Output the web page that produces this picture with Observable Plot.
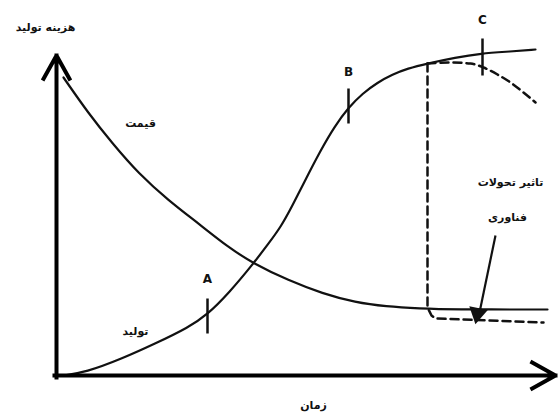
<!DOCTYPE html>
<html>
<head>
<meta charset="utf-8">
<script src="https://cdn.jsdelivr.net/npm/d3@7"></script>
<script src="https://cdn.jsdelivr.net/npm/@observablehq/plot@0.6"></script>
<style>
  html, body { margin: 0; padding: 0; background: #fff; }
  #chart svg { display: block; }
</style>
</head>
<body>
<div id="chart"></div>
<script>
// Price curve (قیمت): time vs value
const price = [[5,298],[30,262],[54,232],[80,202],[110,175],[140,152],[170,128],[195,112],[230,95],[264,82],[297,73],[327,69],[362,67],[392,66],[489,66]];
// Production S-curve (تولید)
const production = [[4,0],[27,3],[64,17],[97,32],[130,48],[149,61],[170,82],[195,112],[210,132],[222,148],[234,170],[245,192],[262,225],[276,249],[290,268],[304,282],[319,293],[334,301],[349,307],[369,312],[397,318],[422,322],[452,324],[477,326]];
// Dashed: production decline after technology change
const productionDecline = [[369,312],[392,313],[412,312],[425,308],[439,301],[452,293],[465,283],[477,273]];
// Dashed: technology effect drop and new lower price
const techDrop = [[369,312],[369,68],[373,60],[377,57],[485,53]];
// Stage markers A, B, C
const stageNames = ["A","B","C"];
const stageX = [149,290,424];
const stageLow = [42,252,300];
const stageHigh = [77,287,337];
const stageLabelY = [96,303,355];
// Arrow pointing to new price level
const effectArrow = [{x1:437,y1:140,x2:421,y2:63}];
const effectHead = [{x:419,y:62}];
// Text labels
const labels = [
  {x:-13, y:348, t:"هزینه تولید"},
  {x:82, y:252, t:"قیمت"},
  {x:77, y:44, t:"تولید"},
  {x:255, y:-30, t:"زمان"},
  {x:452, y:193, t:"تاثیر تحولات"},
  {x:449, y:158, t:"فناوری"}
];
// Axes
const axes = [
  {x1:-2, y1:-2, x2:-2, y2:320},
  {x1:-4, y1:0, x2:497, y2:0}
];

const stages = stageNames.map((n,i)=>({n, x:stageX[i], lo:stageLow[i], hi:stageHigh[i], ly:stageLabelY[i]}));
const font = "DejaVu Sans, Liberation Sans, sans-serif";

const chart = Plot.plot({
  width: 558,
  height: 414,
  marginLeft: 58,
  marginRight: 0,
  marginTop: 55,
  marginBottom: 39,
  x: {domain: [0, 500], axis: null},
  y: {domain: [0, 320], axis: null},
  style: {background: "#fff", fontFamily: font, overflow: "visible"},
  marks: [
    Plot.line(productionDecline, {x: d=>d[0], y: d=>d[1], stroke: "#111", strokeWidth: 2.5, strokeDasharray: "8,5", curve: "monotone-x"}),
    Plot.line(techDrop, {x: d=>d[0], y: d=>d[1], stroke: "#111", strokeWidth: 2.5, strokeDasharray: "8,5", curve: "linear"}),
    Plot.line(price, {x: d=>d[0], y: d=>d[1], stroke: "#111", strokeWidth: 2.2, curve: "basis"}),
    Plot.line(production, {x: d=>d[0], y: d=>d[1], stroke: "#111", strokeWidth: 2.2, curve: "basis"}),
    Plot.link(stages, {x1: "x", x2: "x", y1: "lo", y2: "hi", stroke: "#111", strokeWidth: 2.5}),
    Plot.text(stages, {x: "x", y: "ly", text: "n", fontSize: 12, fontWeight: "bold", fill: "#111"}),
    Plot.link(effectArrow, {x1: "x1", y1: "y1", x2: "x2", y2: "y2", stroke: "#111", strokeWidth: 2.2}),
    Plot.dot(effectHead, {x: "x", y: "y", symbol: "triangle", r: 7, fill: "#111", stroke: "none", rotate: 191}),
    Plot.arrow(axes, {x1: "x1", y1: "y1", x2: "x2", y2: "y2", stroke: "#000", strokeWidth: 4, headLength: 10, headAngle: 58, strokeLinejoin: "miter", strokeLinecap: "square"}),
    Plot.text(labels, {x: "x", y: "y", text: "t", fontSize: 11, fontWeight: "bold", fill: "#111"})
  ]
});
document.getElementById("chart").appendChild(chart);
</script>
</body>
</html>
